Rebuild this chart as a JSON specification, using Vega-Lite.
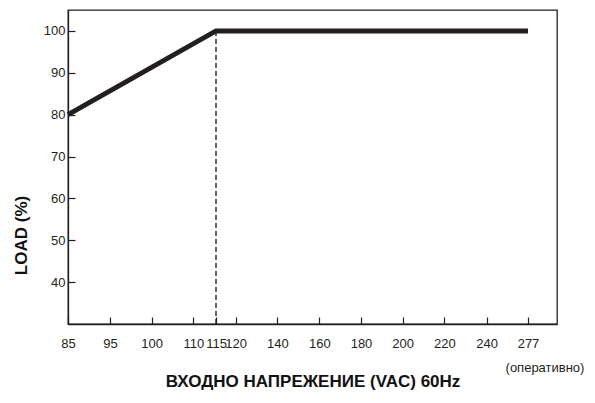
{
  "$schema": "https://vega.github.io/schema/vega-lite/v6.json",
  "width": 489,
  "height": 314,
  "autosize": "none",
  "padding": {"left": 68, "top": 10, "right": 38, "bottom": 79},
  "background": "white",
  "config": {
    "view": {"stroke": "#231f20", "strokeWidth": 1.3},
    "font": "Liberation Sans",
    "axis": {
      "grid": false,
      "domainColor": "#231f20",
      "domainWidth": 1.3,
      "tickColor": "#231f20",
      "tickWidth": 1.2,
      "tickSize": -7,
      "labelColor": "#231f20",
      "labelFont": "Liberation Sans",
      "labelFontSize": 13,
      "labelOverlap": false,
      "titleColor": "#111111",
      "titleFont": "Liberation Sans",
      "titleFontSize": 17,
      "titleFontWeight": "bold"
    }
  },
  "layer": [
    {
      "data": {"values": [{"voltage": 115, "top": 100, "bottom": 30}]},
      "mark": {"type": "rule", "strokeDash": [5, 3], "strokeWidth": 1.4, "color": "#231f20"},
      "encoding": {
        "x": {"field": "voltage", "type": "quantitative"},
        "y": {"field": "top", "type": "quantitative"},
        "y2": {"field": "bottom"}
      }
    },
    {
      "data": {"values": [
        {"voltage": 85, "load": 80},
        {"voltage": 115, "load": 100},
        {"voltage": 277, "load": 100}
      ]},
      "mark": {"type": "line", "strokeWidth": 5, "color": "#231f20", "strokeCap": "butt", "strokeJoin": "miter", "clip": false},
      "encoding": {
        "x": {
          "field": "voltage",
          "type": "quantitative",
          "scale": {
            "domain": [85, 95, 100, 110, 115, 120, 140, 160, 180, 200, 220, 240, 277, 302],
            "range": [0, 42, 83.7, 125.3, 148, 167.7, 209.3, 251.3, 293, 334.7, 376.3, 418.7, 460, 489],
            "nice": false,
            "zero": false
          },
          "axis": {
            "values": [85, 95, 100, 110, 115, 120, 140, 160, 180, 200, 220, 240, 277],
            "title": "ВХОДНО НАПРЕЖЕНИЕ (VAC) 60Hz",
            "labelPadding": 20,
            "titlePadding": 23,
            "labelFlush": false
          }
        },
        "y": {
          "field": "load",
          "type": "quantitative",
          "scale": {"domain": [30, 105], "nice": false, "zero": false},
          "axis": {
            "values": [40, 50, 60, 70, 80, 90, 100],
            "title": "LOAD (%)",
            "labelPadding": 10,
            "titleX": -47,
            "titleY": 225,
            "titleBaseline": "middle"
          }
        }
      }
    },
    {
      "data": {"values": [{"voltage": 277, "load": 30, "note": "(оперативно)"}]},
      "mark": {"type": "text", "dx": 17, "dy": 44, "fontSize": 13, "color": "#231f20", "font": "Liberation Sans"},
      "encoding": {
        "x": {"field": "voltage", "type": "quantitative"},
        "y": {"field": "load", "type": "quantitative"},
        "text": {"field": "note"}
      }
    }
  ]
}
